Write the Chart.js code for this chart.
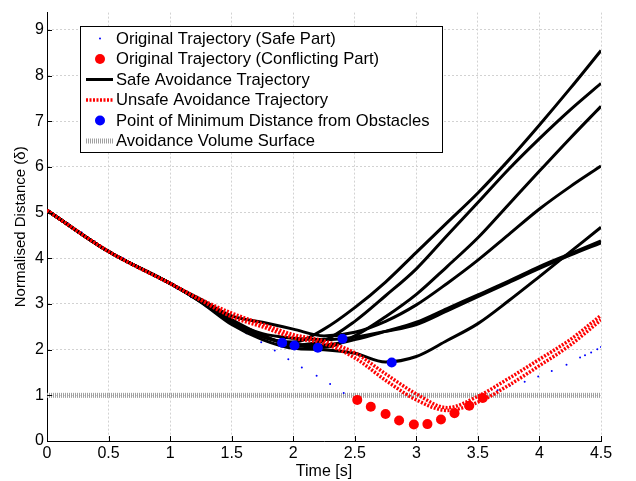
<!DOCTYPE html>
<html>
<head>
<meta charset="utf-8">
<script src="https://cdn.jsdelivr.net/npm/chart.js@4.4.0/dist/chart.umd.min.js"></script>
<style>
html, body { margin: 0; padding: 0; background: #fff; }
#wrap { width: 636px; height: 481px; }
</style>
</head>
<body>
<div id="wrap"><canvas id="chart"></canvas></div>
<script>
// time grid shared by the avoidance trajectories [s]
const times = [0, 0.5, 1, 1.25, 1.5, 1.75, 2, 2.25, 2.5, 2.75, 3, 3.25, 3.5, 3.75, 4, 4.25, 4.5];

// safe avoidance trajectories (black)
const safeA = [5.05, 4.15, 3.45, 3.06, 2.62, 2.28, 2.17, 2.45, 2.92, 3.48, 4.13, 4.78, 5.43, 6.15, 6.92, 7.72, 8.55];
const safeB = [5.05, 4.15, 3.45, 3.07, 2.66, 2.32, 2.10, 2.20, 2.62, 3.18, 3.77, 4.50, 5.22, 5.95, 6.62, 7.25, 7.83];
const safeC = [5.05, 4.15, 3.45, 3.05, 2.60, 2.30, 2.10, 2.05, 2.30, 2.72, 3.21, 3.82, 4.45, 5.18, 5.91, 6.63, 7.33];
const safeD = [5.05, 4.15, 3.45, 3.10, 2.74, 2.60, 2.45, 2.30, 2.38, 2.62, 2.98, 3.45, 3.96, 4.52, 5.08, 5.57, 6.02];
const safeE = [5.05, 4.15, 3.45, 3.06, 2.62, 2.35, 2.25, 2.22, 2.27, 2.40, 2.55, 2.85, 3.16, 3.47, 3.78, 4.07, 4.34];
const safeF = [5.05, 4.15, 3.45, 3.05, 2.58, 2.28, 2.12, 2.10, 2.22, 2.40, 2.60, 2.90, 3.20, 3.50, 3.82, 4.10, 4.38];
const safeG = [5.05, 4.15, 3.45, 3.04, 2.55, 2.22, 2.03, 2.00, 1.92, 1.73, 1.85, 2.20, 2.57, 3.07, 3.60, 4.14, 4.68];

// unsafe avoidance trajectories (red dotted)
const unsafeA = [5.05, 4.15, 3.45, 3.10, 2.80, 2.56, 2.33, 2.19, 1.93, 1.47, 1.03, 0.73, 0.98, 1.37, 1.79, 2.22, 2.75];
const unsafeB = [5.05, 4.15, 3.45, 3.08, 2.72, 2.50, 2.26, 2.13, 1.82, 1.33, 0.90, 0.67, 0.85, 1.22, 1.65, 2.10, 2.65];

// original trajectory, safe part (blue dots)
const origSafeT = [0.06, 0.17, 0.28, 0.39, 0.50, 0.62, 0.73, 0.84, 0.95, 1.06, 1.17, 1.29, 1.40, 1.51, 1.62, 1.74, 1.85, 1.96, 2.07, 2.19, 2.30, 2.41,
                   3.66, 3.76, 3.88, 3.99, 4.10, 4.22, 4.33, 4.37, 4.42, 4.47, 4.50];
const origSafeV = [4.95, 4.77, 4.57, 4.37, 4.17, 4.00, 3.83, 3.66, 3.50, 3.33, 3.15, 2.95, 2.75, 2.55, 2.36, 2.16, 1.98, 1.79, 1.61, 1.43, 1.25, 1.05,
                   1.11, 1.21, 1.30, 1.41, 1.53, 1.67, 1.83, 1.88, 1.94, 2.01, 2.06];

// original trajectory, conflicting part (red dots)
const origConfT = [2.52, 2.63, 2.75, 2.86, 2.98, 3.09, 3.20, 3.31, 3.43, 3.54];
const origConfV = [0.90, 0.75, 0.59, 0.45, 0.36, 0.37, 0.47, 0.61, 0.77, 0.94];

// points of minimum distance from obstacles
const minT = [1.91, 2.01, 2.20, 2.40, 2.80];
const minV = [2.15, 2.09, 2.04, 2.24, 1.72];

// avoidance volume surface
const surfaceT = [0, 4.5];
const surfaceV = [1, 1];

const xTicks = [0, 0.5, 1, 1.5, 2, 2.5, 3, 3.5, 4, 4.5];
const yTicks = [0, 1, 2, 3, 4, 5, 6, 7, 8, 9];

const legendLabels = [
  'Original Trajectory (Safe Part)',
  'Original Trajectory (Conflicting Part)',
  'Safe Avoidance Trajectory',
  'Unsafe Avoidance Trajectory',
  'Point of Minimum Distance from Obstacles',
  'Avoidance Volume Surface'
];

const FONT = "'Liberation Sans', Arial, Helvetica, sans-serif";

function pts(t, v) {
  return t.map((x, i) => ({ x: x, y: v[i] }));
}

const safeCurves = [safeA, safeB, safeC, safeD, safeE, safeF, safeG];
const unsafeCurves = [unsafeA, unsafeB];

const datasets = [];
datasets.push({
  data: pts(minT, minV), backgroundColor: '#0000ff', borderColor: '#0000ff',
  pointRadius: 5, pointBorderWidth: 0, showLine: false, order: 0
});
datasets.push({
  data: pts(origConfT, origConfV), backgroundColor: '#ff0000', borderColor: '#ff0000',
  pointRadius: 5, pointBorderWidth: 0, showLine: false, order: 1
});
unsafeCurves.forEach(v => datasets.push({
  data: pts(times, v), borderColor: '#ff0000', borderWidth: 3.5, borderDash: [2, 1.5],
  pointRadius: 0, showLine: true, cubicInterpolationMode: 'monotone', order: 2
}));
safeCurves.forEach(v => datasets.push({
  data: pts(times, v), borderColor: '#000000', borderWidth: 3,
  pointRadius: 0, showLine: true, cubicInterpolationMode: 'monotone', order: 3
}));
datasets.push({
  data: pts(origSafeT, origSafeV), backgroundColor: '#0000ff', borderColor: '#0000ff',
  pointRadius: 1, pointBorderWidth: 0, showLine: false, order: 4
});
datasets.push({
  data: pts(surfaceT, surfaceV), borderColor: '#a0a0a0', borderWidth: 5, borderDash: [1, 1],
  pointRadius: 0, showLine: true, order: 5
});

// MATLAB style inward ticks
const innerTicks = {
  id: 'innerTicks',
  afterDatasetsDraw(chart) {
    const ctx = chart.ctx, xs = chart.scales.x, ys = chart.scales.y;
    const a = chart.chartArea;
    ctx.save();
    ctx.strokeStyle = '#000';
    ctx.lineWidth = 1;
    ctx.beginPath();
    xTicks.forEach(t => {
      const px = Math.round(xs.getPixelForValue(t)) + 0.5;
      ctx.moveTo(px, a.bottom); ctx.lineTo(px, a.bottom - 5);
    });
    yTicks.forEach(t => {
      const py = Math.round(ys.getPixelForValue(t)) + 0.5;
      ctx.moveTo(a.left, py); ctx.lineTo(a.left + 5, py);
    });
    ctx.stroke();
    ctx.restore();
  }
};

// legend box inside the axes, like the original figure
const boxLegend = {
  id: 'boxLegend',
  afterDraw(chart) {
    const ctx = chart.ctx;
    const bx = 80.5, by = 26.5, bw = 362, bh = 126;
    ctx.save();
    ctx.fillStyle = '#fff';
    ctx.fillRect(bx, by, bw, bh);
    ctx.strokeStyle = '#000';
    ctx.lineWidth = 1;
    ctx.strokeRect(bx, by, bw, bh);
    const rowY = [38.5, 59, 79.5, 100, 120.5, 141];
    const sx0 = 86, sx1 = 113, cx = 100;
    // symbols
    ctx.fillStyle = '#0000ff';
    ctx.beginPath(); ctx.arc(cx, rowY[0], 1, 0, Math.PI * 2); ctx.fill();
    ctx.fillStyle = '#ff0000';
    ctx.beginPath(); ctx.arc(cx, rowY[1], 5, 0, Math.PI * 2); ctx.fill();
    ctx.strokeStyle = '#000'; ctx.lineWidth = 3;
    ctx.beginPath(); ctx.moveTo(sx0, rowY[2]); ctx.lineTo(sx1, rowY[2]); ctx.stroke();
    ctx.strokeStyle = '#ff0000'; ctx.lineWidth = 3.5; ctx.setLineDash([2, 1.5]);
    ctx.beginPath(); ctx.moveTo(sx0, rowY[3]); ctx.lineTo(sx1, rowY[3]); ctx.stroke();
    ctx.setLineDash([]);
    ctx.fillStyle = '#0000ff';
    ctx.beginPath(); ctx.arc(cx, rowY[4], 5, 0, Math.PI * 2); ctx.fill();
    ctx.strokeStyle = '#a0a0a0'; ctx.lineWidth = 5; ctx.setLineDash([1, 1]);
    ctx.beginPath(); ctx.moveTo(sx0, rowY[5]); ctx.lineTo(sx1, rowY[5]); ctx.stroke();
    ctx.setLineDash([]);
    // labels
    ctx.fillStyle = '#000';
    ctx.font = '16.6px ' + FONT;
    ctx.textBaseline = 'middle';
    ctx.textAlign = 'left';
    legendLabels.forEach((s, i) => ctx.fillText(s, 116, rowY[i] + 0.5));
    ctx.restore();
  }
};

new Chart(document.getElementById('chart'), {
  type: 'scatter',
  data: { datasets: datasets },
  plugins: [innerTicks, boxLegend],
  options: {
    responsive: true,
    maintainAspectRatio: false,
    devicePixelRatio: 1,
    animation: false,
    layout: { padding: { top: 5, right: 35, left: 0, bottom: 0 } },
    plugins: {
      legend: { display: false },
      tooltip: { enabled: false }
    },
    scales: {
      x: {
        type: 'linear',
        min: 0,
        max: 4.5,
        afterBuildTicks: s => { s.ticks = xTicks.map(v => ({ value: v })); },
        afterFit: s => { s.height = 40; },
        ticks: {
          color: '#000',
          padding: 3,
          maxRotation: 0,
          font: { family: FONT, size: 16 },
          callback: v => String(v)
        },
        grid: { color: '#d2d2d2', lineWidth: 1, drawTicks: false },
        border: { display: true, color: '#000', width: 1, dash: [2, 2] },
        title: {
          display: true, text: 'Time [s]', color: '#000',
          font: { family: FONT, size: 16 }, padding: { top: 0, bottom: 0 }
        }
      },
      y: {
        type: 'linear',
        min: 0,
        max: 9.38,
        afterBuildTicks: s => { s.ticks = yTicks.map(v => ({ value: v })); },
        afterFit: s => { s.width = 47; },
        ticks: {
          color: '#000',
          padding: 3,
          font: { family: FONT, size: 16 },
          callback: v => String(v)
        },
        grid: { color: '#d2d2d2', lineWidth: 1, drawTicks: false },
        border: { display: true, color: '#000', width: 1, dash: [2, 2] },
        title: {
          display: true, text: 'Normalised Distance (δ)', color: '#000',
          font: { family: FONT, size: 15 }, padding: { top: 12, bottom: 0 }
        }
      }
    }
  }
});
</script>
</body>
</html>
